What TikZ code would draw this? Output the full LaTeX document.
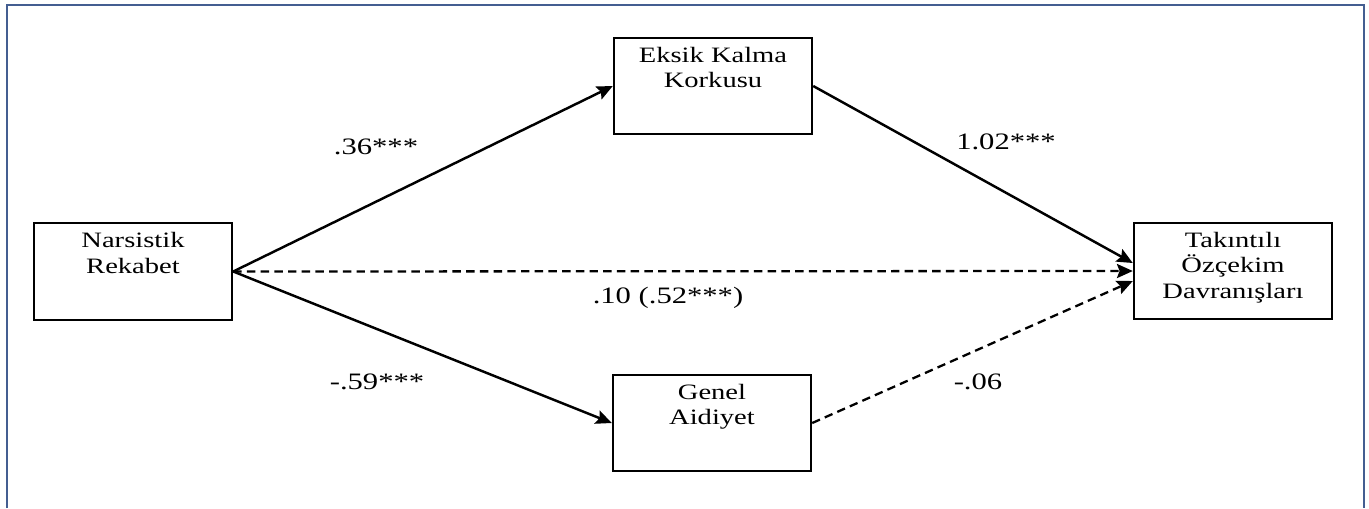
\documentclass[tikz,border=0pt]{standalone}
\usepackage{fontspec}
\setmainfont{Liberation Serif}[FakeStretch=1.3]
\usepackage{xcolor}
\usepackage{tikz}
\usetikzlibrary{
  positioning,
  arrows.meta,
  calc
}
\definecolor{framebl}{RGB}{68,94,145}

\begin{document}
\begin{tikzpicture}[
  x=0.02cm, y=-0.02cm,
  >={Stealth[length=9pt,width=8pt,inset=1.5pt]},
  font=\fontsize{12.5}{14.5}\selectfont,
  every node/.style={inner sep=1pt},
  box/.style={draw, line width=1.4pt, minimum width=3.96cm, minimum height=1.93cm},
  boxtext/.style={anchor=north, align=center, inner sep=0pt, yshift=-0.2cm},
  path/.style={line width=1.4pt, ->},
  dpath/.style={path, line width=1.3pt, dash pattern=on 4.8pt off 3pt},
  coef/.style={font=\fontsize{13.4}{15}\selectfont}
]
  \useasboundingbox (0,0) rectangle (1369,508);
  \draw[framebl, line width=1.3pt] (7,508) -- (7,5) -- (1364,5) -- (1364,508);

  \node[box] (nr) at (133,271.5) {};
  \node[boxtext] at (nr.north) {Narsistik\\Rekabet};
  \node[box] (ek) at (713,86) {};
  \node[boxtext] at (ek.north) {Eksik Kalma\\Korkusu};
  \node[box] (ga) at (712,423) {};
  \node[boxtext] at (ga.north) {Genel\\Aidiyet};
  \node[box] (tk) at (1233,271) {};
  \node[boxtext] at (tk.north) {Takıntılı\\Özçekim\\Davranışları};

  \draw[path] (nr.east) -- (ek.west);
  \draw[path] (nr.east) -- (ga.west);
  \draw[dpath] (nr.east) -- (tk.west);
  \draw[path] (ek.east) -- ($(tk.west)+(0,-8)$);
  \draw[dpath] (ga.east) -- ($(tk.west)+(0,10)$);

  \node[coef] (c1) at (376,147) {.36***};
  \node[coef] (c2) at (1006,142) {1.02***};
  \node[coef] (c3) at (668,298) {.10 (.52***)};
  \node[coef] (c4) at (377,382) {-.59***};
  \node[coef] (c5) at (978,382) {-.06};
\end{tikzpicture}
\end{document}
